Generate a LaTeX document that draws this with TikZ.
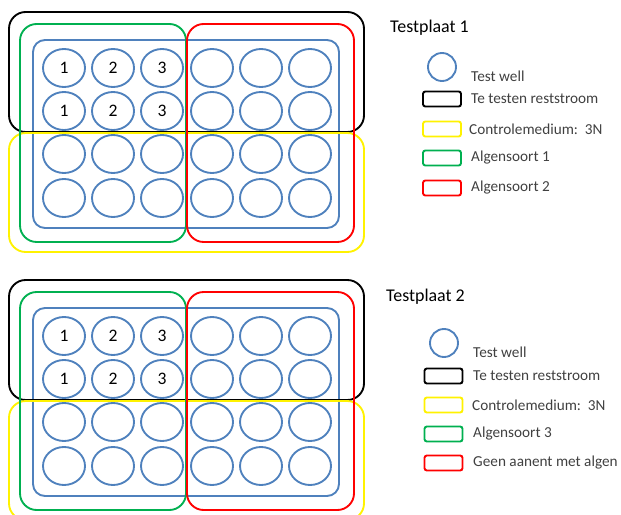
\documentclass[tikz,border=0pt]{standalone}
\usepackage{fontspec}
\setmainfont{Carlito}
\usepackage{tikz}
\usetikzlibrary{shapes.geometric}
\definecolor{wellblue}{RGB}{79,129,189}
\definecolor{algengroen}{RGB}{0,176,80}
\definecolor{tekstgrijs}{RGB}{64,64,64}
\tikzstyle{well} = [ellipse, draw=wellblue, line width=1.6pt, minimum width=1.26cm, minimum height=1.14cm, inner sep=0pt, font=\fontsize{15}{17}\selectfont]
\tikzstyle{plaat} = [draw=wellblue, line width=1.6pt, rounded corners=0.36cm]
\tikzstyle{kader} = [line width=1.6pt, rounded corners=0.5cm]
\tikzstyle{legendwell} = [circle, draw=wellblue, line width=1.6pt, minimum size=0.84cm, inner sep=0pt]
\tikzstyle{legendbox} = [rectangle, rounded corners=2pt, minimum width=1.14cm, minimum height=0.45cm, line width=1.6pt]
\tikzstyle{legendtext} = [anchor=west, text=tekstgrijs, inner sep=0pt, font=\fontsize{13}{15}\selectfont]
\tikzstyle{titel} = [anchor=west, inner sep=0pt, font=\fontsize{15.3}{18}\selectfont]

\begin{document}
\begin{tikzpicture}[x=0.03cm, y=-0.03cm]
    \useasboundingbox (0,0) rectangle (621,515);
    % twee testplaten
    \foreach \p/\dy in {1/0, 2/268} {
        \begin{scope}[shift={(0,\dy)}]
            \draw [plaat] (33,40) rectangle (339,228);
            \foreach \r/\y in {1/68, 2/111} {
                \foreach \c/\x in {1/64, 2/113, 3/162}
                    \node (w\p-\r-\c) [well] at (\x,\y) {\c};
                \foreach \c/\x in {4/212, 5/261, 6/310}
                    \node (w\p-\r-\c) [well] at (\x,\y) {};
            }
            \foreach \r/\y in {3/154, 4/198}
                \foreach \c/\x in {1/64, 2/113, 3/162, 4/212, 5/261, 6/310}
                    \node (w\p-\r-\c) [well] at (\x,\y) {};
            \draw [kader, black] (9,12) rectangle (364,132);
            \draw [kader, yellow] (9,133) rectangle (364,252);
            \draw [kader, algengroen] (20,24) rectangle (186,242);
            \draw [kader, red] (187,24) rectangle (354,242);
        \end{scope}
    }
    % legenda testplaat 1
    \node (titel1) [titel] at (390,28) {Testplaat 1};
    \node (lwell1) [legendwell] at (442,67) {};
    \node (twell1) [legendtext] at (471,76) {Test well};
    \node (lzwart1) [legendbox, draw=black] at (442,99) {};
    \node (tzwart1) [legendtext] at (471,99) {Te testen reststroom};
    \node (lgeel1) [legendbox, draw=yellow] at (442,129) {};
    \node (tgeel1) [legendtext] at (469,129) {Controlemedium:\ \ 3N};
    \node (lgroen1) [legendbox, draw=algengroen] at (442,158) {};
    \node (tgroen1) [legendtext] at (471,158) {Algensoort 1};
    \node (lrood1) [legendbox, draw=red] at (442,188) {};
    \node (trood1) [legendtext] at (471,188) {Algensoort 2};
    % legenda testplaat 2
    \node (titel2) [titel] at (386,297) {Testplaat 2};
    \node (lwell2) [legendwell] at (444,343) {};
    \node (twell2) [legendtext] at (473,352) {Test well};
    \node (lzwart2) [legendbox, draw=black] at (443.5,376) {};
    \node (tzwart2) [legendtext] at (473,376) {Te testen reststroom};
    \node (lgeel2) [legendbox, draw=yellow] at (443.5,405) {};
    \node (tgeel2) [legendtext] at (472,405) {Controlemedium:\ \ 3N};
    \node (lgroen2) [legendbox, draw=algengroen] at (443.5,434) {};
    \node (tgroen2) [legendtext] at (473,434) {Algensoort 3};
    \node (lrood2) [legendbox, draw=red] at (443.5,463) {};
    \node (trood2) [legendtext] at (473,463) {Geen aanent met algen};
\end{tikzpicture}
\end{document}
